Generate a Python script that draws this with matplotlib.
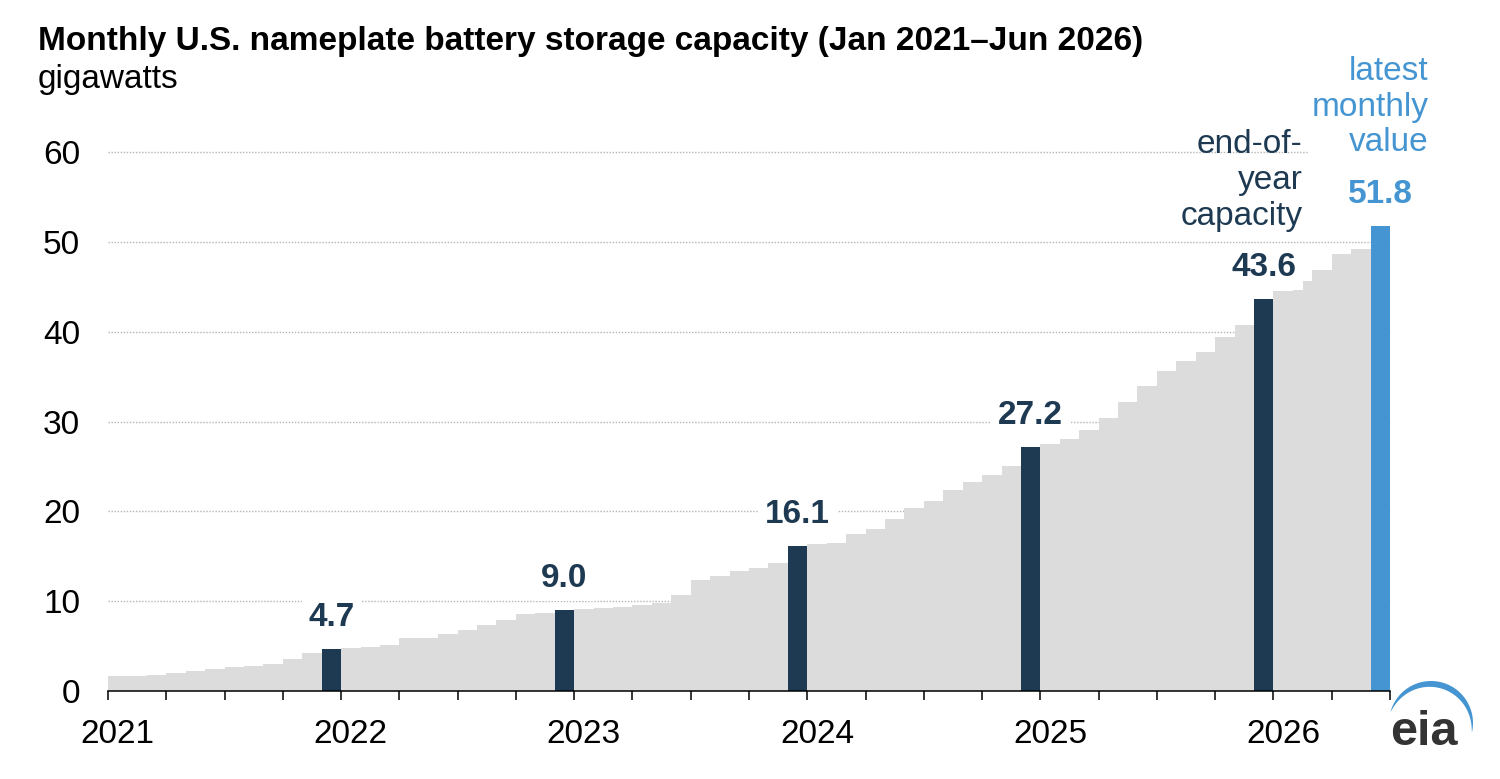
import numpy as np
import pandas as pd
import matplotlib
matplotlib.use('Agg')
import matplotlib.pyplot as plt
from matplotlib.patches import Polygon

plt.rcParams['font.family'] = ['Liberation Sans', 'DejaVu Sans']

# monthly nameplate battery storage capacity, GW (Jan 2021 - Jun 2026)
months = pd.date_range('2021-01-01', periods=66, freq='MS')
capacity_gw = [
    # 2021
    1.65, 1.7, 1.75, 1.95, 2.25, 2.45, 2.65, 2.8, 3.0, 3.55, 4.25, 4.7,
    # 2022
    4.75, 4.85, 5.1, 5.85, 5.9, 6.4, 6.8, 7.4, 7.9, 8.55, 8.7, 9.0,
    # 2023
    9.1, 9.2, 9.4, 9.6, 9.8, 10.65, 12.35, 12.8, 13.4, 13.65, 14.2, 16.1,
    # 2024
    16.35, 16.45, 17.5, 18.0, 19.15, 20.4, 21.1, 22.4, 23.3, 24.0, 25.0, 27.2,
    # 2025
    27.5, 28.1, 29.0, 30.4, 32.2, 33.9, 35.6, 36.7, 37.7, 39.4, 40.7, 43.6,
    # 2026
    44.5, 45.6, 46.9, 48.6, 49.2, 51.8,
]
year_labels = ['2021', '2022', '2023', '2024', '2025', '2026']
y_ticks = [0, 10, 20, 30, 40, 50, 60]

GRAY = '#dcdcdc'
NAVY = '#1d3a52'
BLUE = '#4495d1'

W, H = 1500, 779
fig = plt.figure(figsize=(W / 100, H / 100), dpi=100)
ax = fig.add_axes([108 / W, 1 - 691 / H, (1390 - 108) / W, (691 - 152) / H])

n = len(months)
x = np.arange(n)
colors = []
for i, m in enumerate(months):
    if i == n - 1:
        colors.append(BLUE)
    elif m.month == 12:
        colors.append(NAVY)
    else:
        colors.append(GRAY)

ax.bar(x, capacity_gw, width=1.0, align='edge', color=colors, linewidth=0, zorder=2)

# value labels on year-end bars and the latest month
for i, (m, v) in enumerate(zip(months, capacity_gw)):
    if m.month == 12 or i == n - 1:
        ax.annotate(f'{v:.1f}', xy=(i + 0.5, v), xytext=(0, 16.5),
                    textcoords='offset points', ha='center', va='baseline',
                    fontsize=24, fontweight='bold', color=colors[i],
                    bbox=dict(boxstyle='square,pad=0.2', fc='white', ec='none'),
                    zorder=4, annotation_clip=False)

# dotted gridlines
ax.hlines(y_ticks[1:], 0, n, colors='#b5b5b5', linestyles=(0, (1, 1.2)),
          linewidth=1.0, zorder=1, clip_on=False)

ax.set_xlim(0, n)
ax.set_ylim(0, 60)
for s in ['top', 'right', 'left']:
    ax.spines[s].set_visible(False)
ax.spines['bottom'].set_linewidth(1.1)
ax.spines['bottom'].set_zorder(3)

ax.set_xticks(np.arange(0, n + 1, 3), labels=[])
ax.set_xticks([12 * k + 0.5 for k in range(len(year_labels))], labels=year_labels, minor=True)
ax.tick_params(axis='x', which='major', length=6.5, width=1.1, color='black')
ax.tick_params(axis='x', which='minor', length=0, pad=20, labelsize=24)

ax.set_yticks(y_ticks)
ax.tick_params(axis='y', length=0, pad=20, labelsize=24)

ax.text(61.5, 51.9, 'end-of-\nyear\ncapacity', ha='right', va='baseline',
        fontsize=24, color=NAVY, linespacing=1.2, zorder=5)
ax.text(68.0, 60.06, 'latest\nmonthly\nvalue', ha='right', va='baseline',
        fontsize=24, color=BLUE, linespacing=1.2, zorder=5,
        bbox=dict(boxstyle='square,pad=0.1', fc='white', ec='none'))

fig.text(38 / W, 1 - 50 / H,
         'Monthly U.S. nameplate battery storage capacity (Jan 2021\u2013Jun 2026)',
         fontsize=24, fontweight='bold', ha='left', va='baseline')
fig.text(38 / W, 1 - 88 / H, 'gigawatts', fontsize=24, ha='left', va='baseline')

# eia logo
fig.text(1390 / W, 1 - 745 / H, 'eia', fontsize=35, fontweight='bold',
         color='#333333', ha='left', va='baseline')
cx, cy, r = 1431, 723, 42
th = np.linspace(np.radians(165), np.radians(-13), 60)
t = 6 * np.sin(np.linspace(0, np.pi, 60)) ** 0.8
outer = np.column_stack([cx + r * np.cos(th), cy - r * np.sin(th)])
inner = np.column_stack([cx + (r - t) * np.cos(th), cy - (r - t) * np.sin(th)])[::-1]
pts = np.vstack([outer, inner])
pts = np.column_stack([pts[:, 0] / W, 1 - pts[:, 1] / H])
fig.patches.append(Polygon(pts, closed=True, fc=BLUE, ec='none',
                           transform=fig.transFigure, figure=fig))

fig.savefig('out.png', dpi=100)
